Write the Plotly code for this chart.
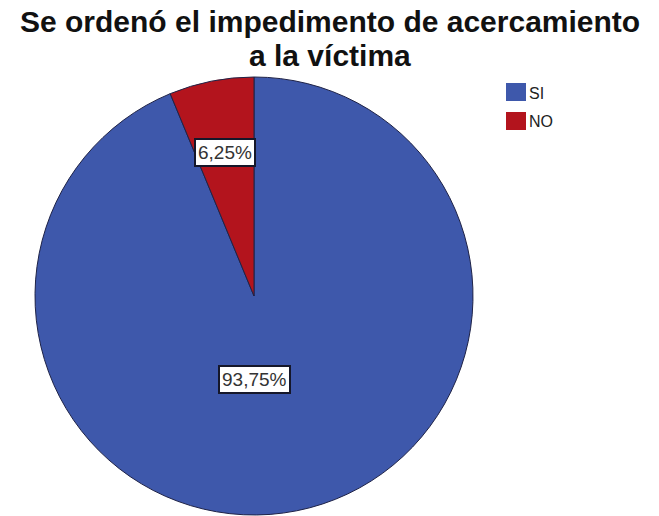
import math
import plotly.graph_objects as go

# Answer categories and counts (percentages of cases)
categories = ["SI", "NO"]
values = [93.75, 6.25]
colors = ["#3e58ab", "#b3141d"]
title_lines = ["Se ordenó el impedimento de acercamiento", "a la víctima"]

W, H = 659, 516
cx_px, cy_px, R = 254, 296, 219  # pie centre and radius in pixels

fig = go.Figure(
    go.Pie(
        labels=categories,
        values=values,
        sort=False,
        direction="clockwise",
        rotation=0,
        marker=dict(colors=colors, line=dict(color="#1f2347", width=1)),
        textinfo="none",
        hoverinfo="label+percent",
        showlegend=False,
        domain=dict(
            x=[(cx_px - R) / W, (cx_px + R) / W],
            y=[1 - (cy_px + R) / H, 1 - (cy_px - R) / H],
        ),
    )
)

annotations = []
shapes = []

# Title as two centred lines
for i, line in enumerate(title_lines):
    annotations.append(dict(
        text=line, x=0.5, xref="paper", xanchor="center",
        y=1 - (22 + 34 * i) / H, yref="paper", yanchor="middle",
        showarrow=False,
        font=dict(family="Liberation Sans, Arial", size=30, color="#111111", weight="bold"),
    ))

# Percentage labels in white boxes, placed along each slice
total = sum(values)
start = 0.0
label_radius = {"SI": 0.38, "NO": 0.67}
for cat, v in zip(categories, values):
    share = v / total
    mid = (start + share / 2) * 360
    if cat == "SI":
        mid = 180.0
    start += share
    r = label_radius[cat] * R
    x_px = cx_px + r * math.sin(math.radians(mid))
    y_px = cy_px - r * math.cos(math.radians(mid))
    annotations.append(dict(
        text=f"{share * 100:.2f}%".replace(".", ","),
        x=x_px / W, y=1 - y_px / H, xref="paper", yref="paper",
        xanchor="center", yanchor="middle",
        showarrow=False, bgcolor="white", bordercolor="#15172a",
        borderwidth=2, borderpad=2,
        font=dict(family="Liberation Sans, Arial", size=19, color="#333333"),
    ))

# Legend: coloured squares with category names
for i, (cat, col) in enumerate(zip(categories, colors)):
    top = 83 + 29 * i
    shapes.append(dict(
        type="rect", xref="paper", yref="paper",
        x0=506 / W, x1=526 / W, y0=1 - (top + 18) / H, y1=1 - top / H,
        fillcolor=col, line=dict(width=0),
    ))
    annotations.append(dict(
        text=cat, x=527 / W, xanchor="left", y=1 - (top + 10) / H, yanchor="middle",
        xref="paper", yref="paper", showarrow=False,
        font=dict(family="Liberation Sans, Arial", size=16, color="#222222"),
    ))

fig.update_layout(
    width=W, height=H,
    margin=dict(l=0, r=0, t=0, b=0),
    paper_bgcolor="white", plot_bgcolor="white",
    annotations=annotations, shapes=shapes,
)

fig.write_html("out.html")
